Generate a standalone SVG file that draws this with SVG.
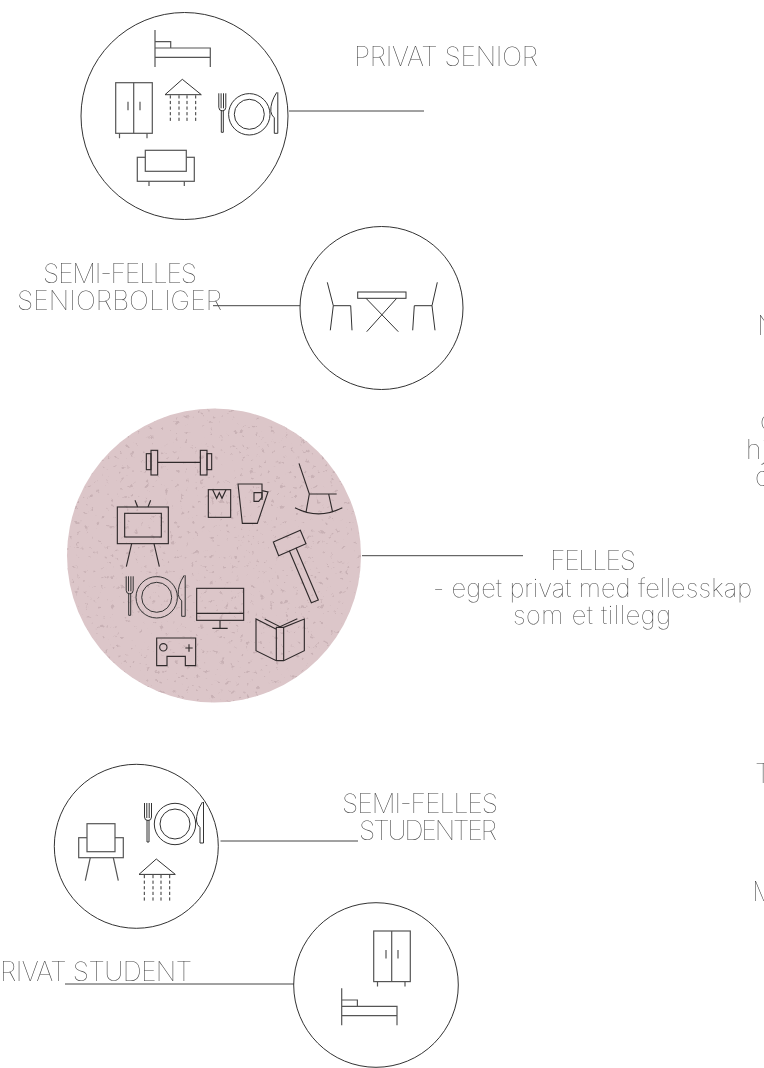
<svg xmlns="http://www.w3.org/2000/svg" width="764" height="1068" viewBox="0 0 764 1068">
<style>
.bg{fill:#fff}
.ring{fill:none;stroke:#333;stroke-width:1}
.ic,.ic *{fill:none;stroke:#333;stroke-width:1}
.icg,.icg *{fill:none;stroke:#555;stroke-width:1.2}
.big,.big *{fill:none;stroke:#2f2a2b;stroke-width:3.4}
.con{fill:none;stroke:#444;stroke-width:1}
text{font-family:"Inter","Lato",sans-serif;font-weight:100;fill:#444;font-size:26.500px;opacity:.99}
.sm{font-size:25.500px}
</style>
<defs>
<g id="bed" class="icg"><path d="M0 0V37M0 11.700H15.700V18H0M0 18H55.300V37M0 27.300H55.300"/></g>
<g id="wardrobe" class="icg"><rect x="0" y="0" width="36.600" height="50.600"/><path d="M18 0V50.600M12.300 19V27.500M24.300 19V27.500M3.800 50.600V55.500M31.300 50.600V55.500"/></g>
<g id="shower" class="ic"><path d="M0 0L-17.300 15.400H19L0 0Z"/><path stroke-dasharray="3.200 2.400" d="M-12 16V42M-3.300 16V42M4.700 16V42M13.400 16V42"/></g>
<g id="plate" class="ic"><circle r="20.700"/><circle r="15"/><path d="M-30.500 -21V-7Q-30.500 -3.500 -27 -3.500Q-23.500 -3.500 -23.500 -7V-21M-28.200 -21V-6M-25.800 -21V-6M-28 -4V18H-26V-4"/><path d="M27.500 -22Q21 -12 21.500 -3Q22 1 25 3.500V19H28.500V-22"/></g>
<filter id="speck" x="0" y="0" width="100%" height="100%"><feTurbulence type="fractalNoise" baseFrequency="0.2" numOctaves="3" seed="11"/><feColorMatrix values="0 0 0 0 0.58  0 0 0 0 0.44  0 0 0 0 0.46  9 0 0 0 -6"/></filter>
<clipPath id="c3"><circle cx="214" cy="555.500" r="147"/></clipPath>
</defs>
<rect class="bg" width="764" height="1068"/>
<g id="connectors">
<path class="con" d="M289 111H424"/>
<path class="con" d="M213 305.700H300" stroke-width="1.400"/>
<path class="con" d="M362 555.700H523"/>
<path class="con" d="M220.500 841H358"/>
<path class="con" d="M65 984H294"/>
</g>
<g id="privat-senior">
<circle class="ring" cx="184.500" cy="116" r="103.500"/>
<use href="#bed" x="155" y="30"/>
<use href="#wardrobe" x="115.700" y="82.700"/>
<use href="#shower" x="182.300" y="79.300"/>
<use href="#plate" x="249.300" y="114.300"/>
<g class="icg"><rect x="137.300" y="157.300" width="57" height="24"/><rect x="145.300" y="150.300" width="41" height="21" style="fill:#fff"/><path d="M149 181.300V186M184.300 181.300V186"/></g>
<text x="354" y="66" textLength="184">PRIVAT SENIOR</text>
</g>
<g id="semi-felles-senior">
<circle class="ring" cx="381.500" cy="308" r="81.500"/>
<g class="ic"><path d="M327.300 282.300L333.300 305.700L330.300 330.300M333.300 305.700H350.700L352 330.300"/><path d="M437.300 282.300L432 305.700L435 330.300M432 305.700H414.300L412.700 330.300"/><rect x="357.700" y="292" width="48.300" height="6.300"/><path d="M366 298.300L398.300 331.700M396.700 298.300L366.700 331.700"/></g>
<text x="43" y="283" textLength="154">SEMI-FELLES</text>
<text x="17" y="310" textLength="205">SENIORBOLIGER</text>
</g>
<g id="felles">
<circle cx="214" cy="555.500" r="147" fill="#dcc6c9"/>
<rect x="67" y="408" width="294" height="295" filter="url(#speck)" clip-path="url(#c3)"/>
<g class="big" transform="translate(60 400) scale(.33333)">
<path d="M293 187H421"/><rect x="273" y="151" width="20" height="74"/><rect x="259" y="161" width="14" height="48"/><rect x="421" y="151" width="20" height="74"/><rect x="441" y="161" width="14" height="48"/>
<rect x="445" y="269" width="67" height="83"/><path d="M458 269L470 295L478 278L486 295L498 269"/>
<path d="M606 300V252H534L547 370H592L624 276L606 272"/><path d="M582 278H606V292L596 304H582Z"/>
<path d="M717 190L748 282H830M748 282L738 337M806 282L818 337M705 323Q775 360 847 323"/>
<path d="M640 426L721 391L738 431L656 467Z"/><path d="M688 452L754 608L775 600L708 443"/>
<rect x="172" y="321" width="153" height="110"/><rect x="194" y="340" width="110" height="71"/><path d="M233 321L225 301M264 321L272 301M215 431L199 500M282 431L298 500"/>
<rect x="410" y="565" width="141" height="96"/><path d="M410 640H551M480 661V685M457 685H503"/>
<path d="M649 688L588 657V752L649 782H671L733 752V657L671 682H649V782M671 682V782M614 657L660 680L712 656"/>
<path d="M290 714H407V797H376V769H321V797H290Z"/><circle cx="310" cy="742" r="11"/><path d="M376 744H398M387 733V755"/>
</g>
<use href="#plate" x="156.700" y="597.300"/>
<text x="550" y="570" textLength="86">FELLES</text>
<text x="433" y="597" class="sm" textLength="319">- eget privat med fellesskap</text>
<text x="513" y="624" class="sm" textLength="158">som et tillegg</text>
</g>
<g id="semi-felles-student">
<circle class="ring" cx="136.300" cy="846.300" r="82"/>
<g class="icg"><rect x="78.700" y="837.700" width="44.600" height="20"/><rect x="87" y="823.700" width="28" height="28" style="fill:#fff"/><path d="M90.300 857.700L85.300 880.700M113.300 857.700L118.300 880.700"/></g>
<use href="#plate" x="175" y="824"/>
<use href="#shower" x="156.300" y="859"/>
<text x="342" y="813" textLength="156">SEMI-FELLES</text>
<text x="359" y="840" textLength="138">STUDENTER</text>
</g>
<g id="privat-student">
<circle class="ring" cx="376" cy="985" r="82.300"/>
<use href="#wardrobe" x="373.700" y="931"/>
<use href="#bed" x="341.700" y="988.300"/>
<text x="0" y="981" textLength="192">RIVAT STUDENT</text>
</g>
<g id="clipped-text">
<text x="757" y="335">N</text>
<text x="760" y="430">c</text>
<text x="746" y="459">hj</text>
<text x="755" y="486">c</text>
<text x="755" y="783">T</text>
<text x="752" y="901">M</text>
</g>
</svg>
